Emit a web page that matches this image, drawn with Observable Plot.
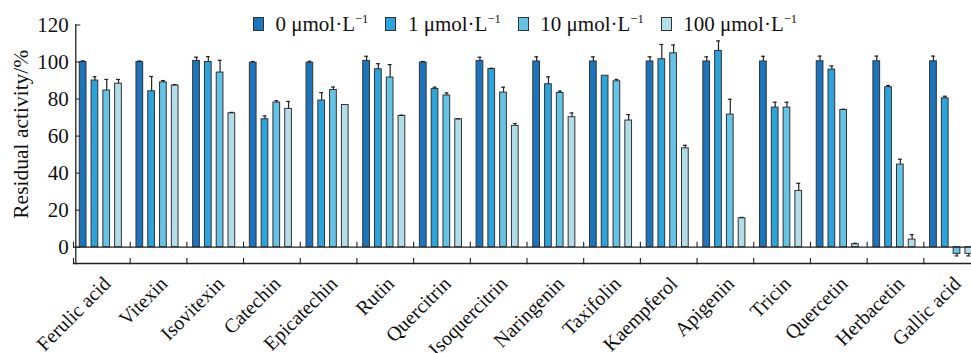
<!DOCTYPE html>
<html><head><meta charset="utf-8">
<script src="https://cdn.jsdelivr.net/npm/d3@7"></script>
<script src="https://cdn.jsdelivr.net/npm/@observablehq/plot@0.6"></script>
<style>
body{margin:0;background:#fff;}
#wrap{position:relative;width:971px;height:353px;overflow:hidden;font-family:"Liberation Serif","Times New Roman",serif;background:#fff;}
#legend{position:absolute;top:13.5px;left:253px;display:flex;align-items:center;font-family:"Liberation Serif","Times New Roman",serif;font-size:21px;line-height:1;color:#111;white-space:nowrap;}
.item{display:flex;align-items:center;margin-right:17px;}
.sw{width:9px;height:11.4px;border:1.3px solid #333;margin-right:11.5px;}
sup{font-size:0.6em;vertical-align:0.6em;line-height:0;}
#chart{position:absolute;left:0;top:0;}
#chart svg{max-width:none !important;}
#chart svg text{font-family:"Liberation Serif","Times New Roman",serif;}
</style></head><body>
<div id="wrap"><div id="chart"></div><div id="legend"></div></div>
<script>
const categories = ["Ferulic acid","Vitexin","Isovitexin","Catechin","Epicatechin","Rutin","Quercitrin","Isoquercitrin","Naringenin","Taxifolin","Kaempferol","Apigenin","Tricin","Quercetin","Herbacetin","Gallic acid"];
const seriesLabels = ["0", "1", "10", "100"];
const colors = ["#1c75bc", "#2da3dc", "#65c3e5", "#b2dde8"];
const values0 = [100, 100, 100.6, 99.6, 99.6, 100.6, 99.7, 100.6, 100.3, 100.3, 100.3, 100.3, 100.3, 100.4, 100.4, 100.4];
const errors0 = [0.6, 0.5, 2, 0.7, 0.8, 2.5, 0.6, 2, 2.5, 2.5, 2.5, 2.5, 2.8, 2.8, 2.8, 2.8];
const values1 = [90, 84.2, 100, 69.1, 79.2, 96.1, 85.4, 96.2, 88, 92.6, 101.5, 106, 75.4, 95.9, 86.4, 80.4];
const errors1 = [2, 8, 2.9, 1.8, 4.3, 3, 1, 0.4, 4, 0, 8, 5.4, 2.9, 2, 0.9, 1.1];
const values2 = [84.6, 89, 94.3, 78.1, 84.9, 91.6, 81.9, 83.5, 83.3, 89.6, 104.7, 71.6, 75.4, 74.1, 44.6, -3.6];
const errors2 = [6, 1, 6.6, 1, 1.6, 7, 1.4, 2.9, 1, 1, 4.5, 8.3, 2.9, 0.4, 2.9, 1.1];
const values3 = [88.3, 87.3, 72.3, 74.7, 76.8, 70.9, 69.1, 65.5, 70.2, 68.4, 53.4, 15.6, 30.4, 1.6, 4.1, -3.6];
const errors3 = [2.3, 0.5, 0.5, 4, 0, 0.4, 0.2, 1.3, 2.3, 3.2, 1.6, 0.5, 4.1, 0.5, 2.7, 1.1];
const yTicks = [0, 20, 40, 60, 80, 100, 120];
const yLabel = "Residual activity/%";
const unit = " μmol·L";
const unitSup = "−1";

const seriesValues = [values0, values1, values2, values3];
const seriesErrors = [errors0, errors1, errors2, errors3];
const data = [];
categories.forEach((c, i) => seriesLabels.forEach((s, j) => data.push({cat: c, series: s, value: seriesValues[j][i], err: seriesErrors[j][i]})));
const errData = data.filter(d => d.err > 0).map(d => ({...d, end: d.value + Math.sign(d.value) * d.err}));

const H = 353, marginTop = 24.5, marginBottom = 90;
const yDomain = [-8.8, 120];
const yS = Plot.scale({y: {domain: yDomain, range: [H - marginBottom, marginTop]}});
const y0 = yS.apply(0);
const bottom = H - marginBottom;
const ink = "#222";

const plot = Plot.plot({
  width: 980, height: H, marginTop, marginBottom, marginLeft: 73, marginRight: 0,
  style: {fontFamily: "Liberation Serif, Times New Roman, serif", fontSize: "20px", color: "#111", background: "white"},
  fx: {domain: categories, padding: 0, round: false, label: null},
  x: {domain: seriesLabels, paddingInner: 0.43, paddingOuter: 0.62, align: 0.43, round: false, axis: null},
  y: {domain: yDomain},
  color: {domain: seriesLabels, range: colors},
  marks: [
    Plot.barY(data, {fx: "cat", x: "series", y: "value", fill: "series", stroke: "#333", strokeWidth: 1}),
    Plot.ruleX(errData, {fx: "cat", x: "series", y1: "value", y2: "end", stroke: ink, strokeWidth: 1.2}),
    Plot.tickY(errData, {fx: "cat", x: "series", y: "end", stroke: ink, strokeWidth: 1.2, insetLeft: 1.4, insetRight: 1.4}),
    Plot.ruleY([0], {stroke: ink, strokeWidth: 1.3}),
    Plot.frame({anchor: "bottom", stroke: ink, strokeWidth: 1.3}),
    Plot.frame({anchor: "left", insetTop: bottom - marginTop - 5, stroke: ink, strokeWidth: 1.1}),
    Plot.frame({anchor: "left", insetTop: y0 - marginTop - 5, insetBottom: bottom - y0, stroke: ink, strokeWidth: 1.1}),
    Plot.frame({anchor: "left", facetAnchor: "left", insetLeft: 2.3, stroke: ink, strokeWidth: 1.3}),
    Plot.axisY({ticks: yTicks, tickSize: 5, dx: 7.3, text: null, stroke: ink, label: null}),
    Plot.axisY({ticks: yTicks, tickSize: 0, tickPadding: 7, dx: 2.3, fontSize: 21, label: null}),
    Plot.text([yLabel], {frameAnchor: "left", facetAnchor: "left", textAnchor: "middle", lineAnchor: "middle", rotate: -90, dx: -52.7, dy: -10, fontSize: 21.5, fill: "#111"}),
    Plot.axisFx({anchor: "bottom", tickRotate: -45, tickSize: 0, tickPadding: 17, dx: 5.5, fontSize: 20, label: null})
  ]
});
document.getElementById("chart").appendChild(plot);

const legend = document.getElementById("legend");
seriesLabels.forEach((s, j) => {
  const item = document.createElement("div");
  item.className = "item";
  const sw = document.createElement("span");
  sw.className = "sw";
  sw.style.background = colors[j];
  const label = document.createElement("span");
  label.innerHTML = s + unit + "<sup>" + unitSup + "</sup>";
  item.appendChild(sw);
  item.appendChild(label);
  legend.appendChild(item);
});
</script>
</body></html>
